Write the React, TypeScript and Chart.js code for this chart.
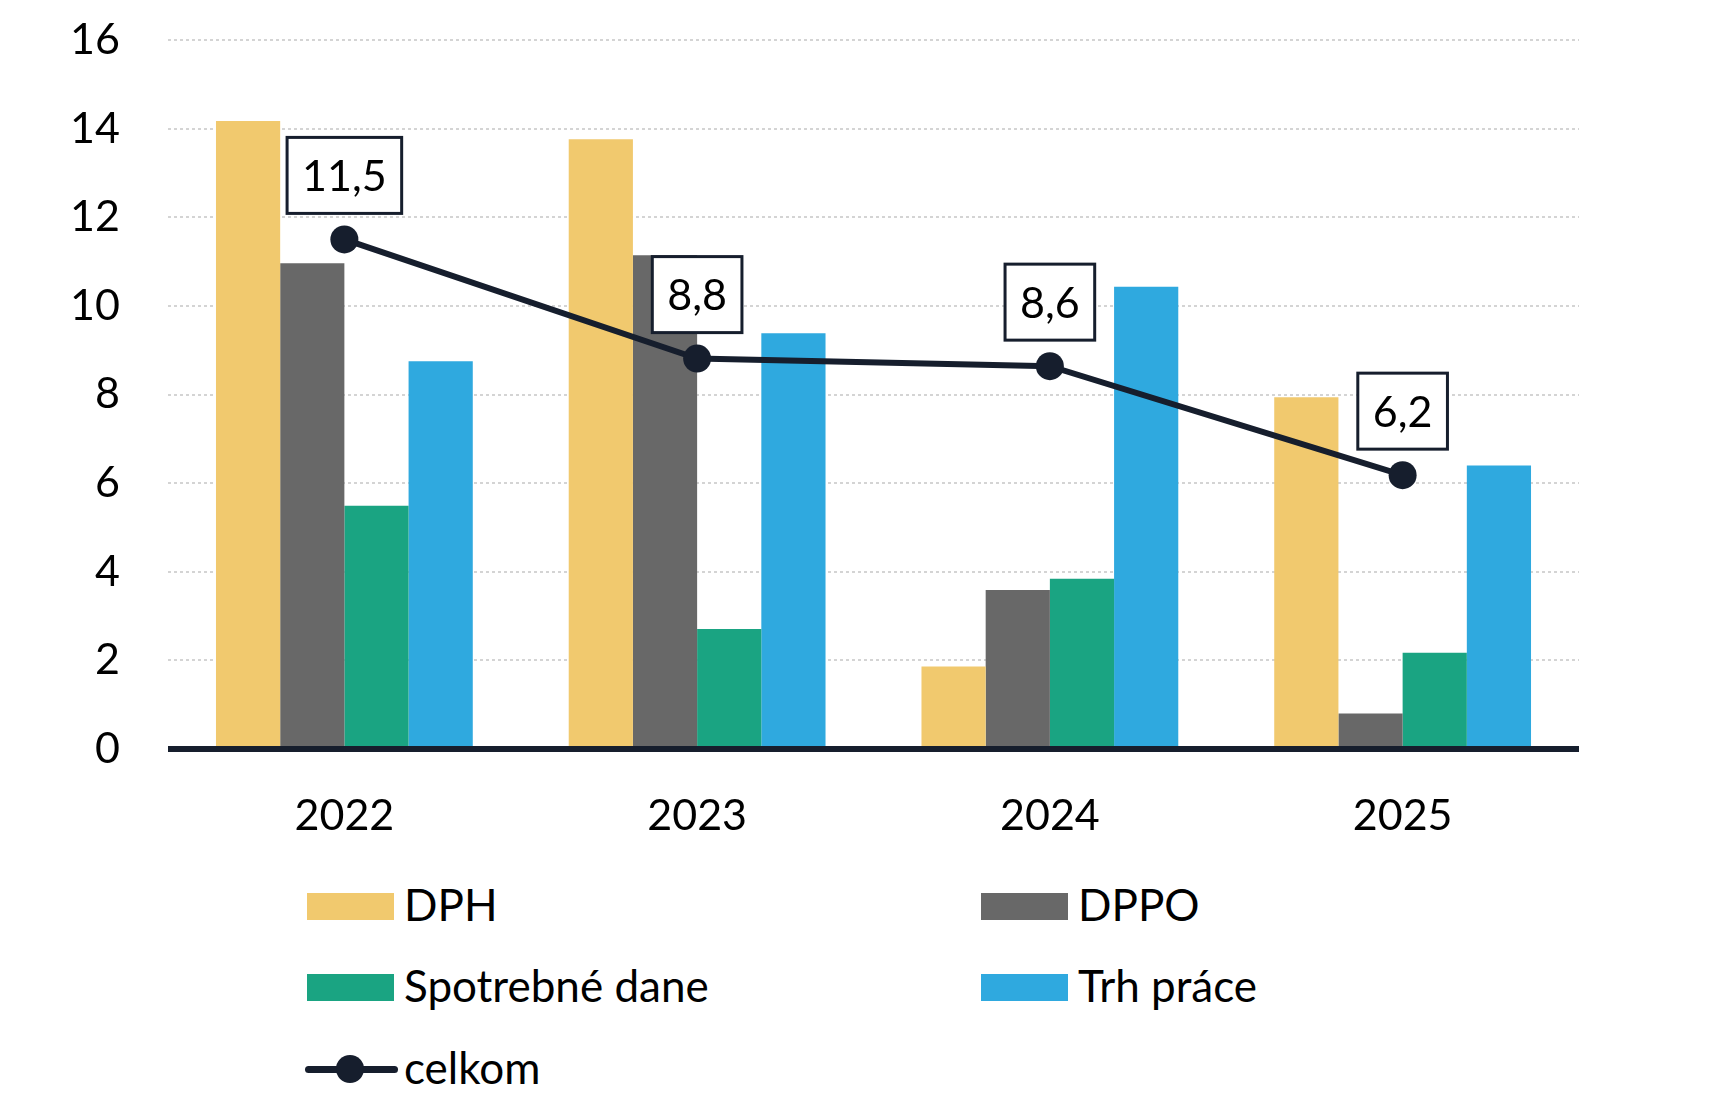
import { useEffect, useRef } from "react"
import { Chart, registerables } from "chart.js"

Chart.register(...registerables)

// data
const years = ["2022", "2023", "2024", "2025"]
const dph = [14.17, 13.76, 1.86, 7.94]
const dppo = [10.96, 11.14, 3.59, 0.8]
const spotrebne = [5.49, 2.71, 3.84, 2.17]
const trhPrace = [8.75, 9.38, 10.43, 6.4]
const celkom = [11.5, 8.81, 8.64, 6.18]
const yTicks = [0, 2, 4, 6, 8, 10, 12, 14, 16]

const FONT = "Lato, 'Open Sans', sans-serif"
const DARK = "#161E2D"

const colors = {
  dph: "#F1C96E",
  dppo: "#686868",
  spotrebne: "#1AA482",
  trh: "#2FA9DF",
}

// draws the zero axis line on top of the bars and the boxed labels of the line
const overlayPlugin = {
  id: "overlay",
  afterDatasetsDraw(chart: any) {
    const { ctx, chartArea, scales } = chart
    const y0 = scales.y.getPixelForValue(0)
    ctx.save()
    ctx.strokeStyle = DARK
    ctx.lineWidth = 6
    ctx.beginPath()
    ctx.moveTo(chartArea.left, y0)
    ctx.lineTo(chartArea.right, y0)
    ctx.stroke()
    ctx.restore()
  },
  afterDraw(chart: any) {
    const { ctx } = chart
    const meta = chart.getDatasetMeta(4)
    ctx.save()
    ctx.font = `43px ${FONT}`
    ctx.textAlign = "center"
    ctx.textBaseline = "middle"
    meta.data.forEach((pt: any, i: number) => {
      const text = celkom[i].toFixed(1).replace(".", ",")
      const w = ctx.measureText(text).width + 30
      const h = 76
      const bottom = pt.y - 26
      const left = pt.x - w / 2
      ctx.fillStyle = "#fff"
      ctx.fillRect(left, bottom - h, w, h)
      ctx.strokeStyle = DARK
      ctx.lineWidth = 3
      ctx.strokeRect(left, bottom - h, w, h)
      ctx.fillStyle = "#000"
      ctx.fillText(text, pt.x, bottom - h / 2 + 2)
    })
    ctx.restore()
  },
}

function ComboChart() {
  const chartRef = useRef<HTMLCanvasElement>(null)
  const chartInstance = useRef<Chart | null>(null)

  useEffect(() => {
    if (!chartRef.current) return
    if (chartInstance.current) chartInstance.current.destroy()

    const ctx = chartRef.current.getContext("2d")
    if (!ctx) return

    const bar = (label: string, data: number[], color: string) => ({
      type: "bar" as const,
      label,
      data,
      backgroundColor: color,
      borderWidth: 0,
      barPercentage: 1,
      categoryPercentage: 0.728,
      order: 1,
    })

    chartInstance.current = new Chart(ctx, {
      data: {
        labels: years,
        datasets: [
          bar("DPH", dph, colors.dph),
          bar("DPPO", dppo, colors.dppo),
          bar("Spotrebné dane", spotrebne, colors.spotrebne),
          bar("Trh práce", trhPrace, colors.trh),
          {
            type: "line" as const,
            label: "celkom",
            data: celkom,
            borderColor: DARK,
            backgroundColor: DARK,
            borderWidth: 6,
            pointRadius: 14,
            pointBorderWidth: 0,
            pointBackgroundColor: DARK,
            tension: 0,
            order: 0,
          },
        ],
      } as any,
      options: {
        animation: false,
        responsive: true,
        maintainAspectRatio: false,
        layout: { padding: { left: 0, right: 131, top: 40, bottom: 0 } },
        plugins: {
          legend: { display: false },
          tooltip: { enabled: false },
        },
        scales: {
          x: {
            grid: { display: false },
            border: { display: false },
            ticks: {
              color: "#000",
              font: { family: FONT, size: 43 },
              padding: 33,
            },
            afterFit: (s: any) => {
              s.height = 111
            },
          },
          y: {
            min: 0,
            max: 16,
            afterBuildTicks: (s: any) => {
              s.ticks = yTicks.map((v) => ({ value: v }))
            },
            grid: {
              color: "#d4d4d4",
              lineWidth: 2,
              drawTicks: false,
            },
            border: { display: false, dash: [3, 3] },
            ticks: {
              color: "#000",
              font: { family: FONT, size: 43 },
              padding: 48,
            },
            afterFit: (s: any) => {
              s.width = 168
              s.paddingTop = 26
              s.paddingBottom = 26
            },
          },
        },
      },
      plugins: [overlayPlugin],
    })

    return () => {
      if (chartInstance.current) chartInstance.current.destroy()
    }
  }, [])

  return (
    <div style={{ position: "absolute", left: 0, top: 0, width: 1710, height: 860 }}>
      <canvas ref={chartRef} />
    </div>
  )
}

const legendText: React.CSSProperties = {
  position: "absolute",
  fontFamily: FONT,
  fontSize: 44,
  lineHeight: "50px",
  color: "#000",
  whiteSpace: "nowrap",
}

function LegendBox({ left, top, color, label }: { left: number; top: number; color: string; label: string }) {
  return (
    <>
      <div style={{ position: "absolute", left, top, width: 87, height: 27, background: color }} />
      <div style={{ ...legendText, left: left + 97, top: top + 13 - 27 }}>{label}</div>
    </>
  )
}

export default function App() {
  return (
    <div
      style={{
        position: "absolute",
        left: 0,
        top: 0,
        width: 1710,
        height: 1110,
        background: "#fff",
        overflow: "hidden",
      }}
    >
      <ComboChart />
      <LegendBox left={307} top={893} color={colors.dph} label="DPH" />
      <LegendBox left={981} top={893} color={colors.dppo} label="DPPO" />
      <LegendBox left={307} top={974} color={colors.spotrebne} label="Spotrebné dane" />
      <LegendBox left={981} top={974} color={colors.trh} label="Trh práce" />
      <div style={{ position: "absolute", left: 305, top: 1066, width: 93, height: 7, borderRadius: 4, background: DARK }} />
      <div style={{ position: "absolute", left: 336, top: 1055, width: 28, height: 28, borderRadius: 14, background: DARK }} />
      <div style={{ ...legendText, left: 404, top: 1069 - 27 }}>celkom</div>
    </div>
  )
}
